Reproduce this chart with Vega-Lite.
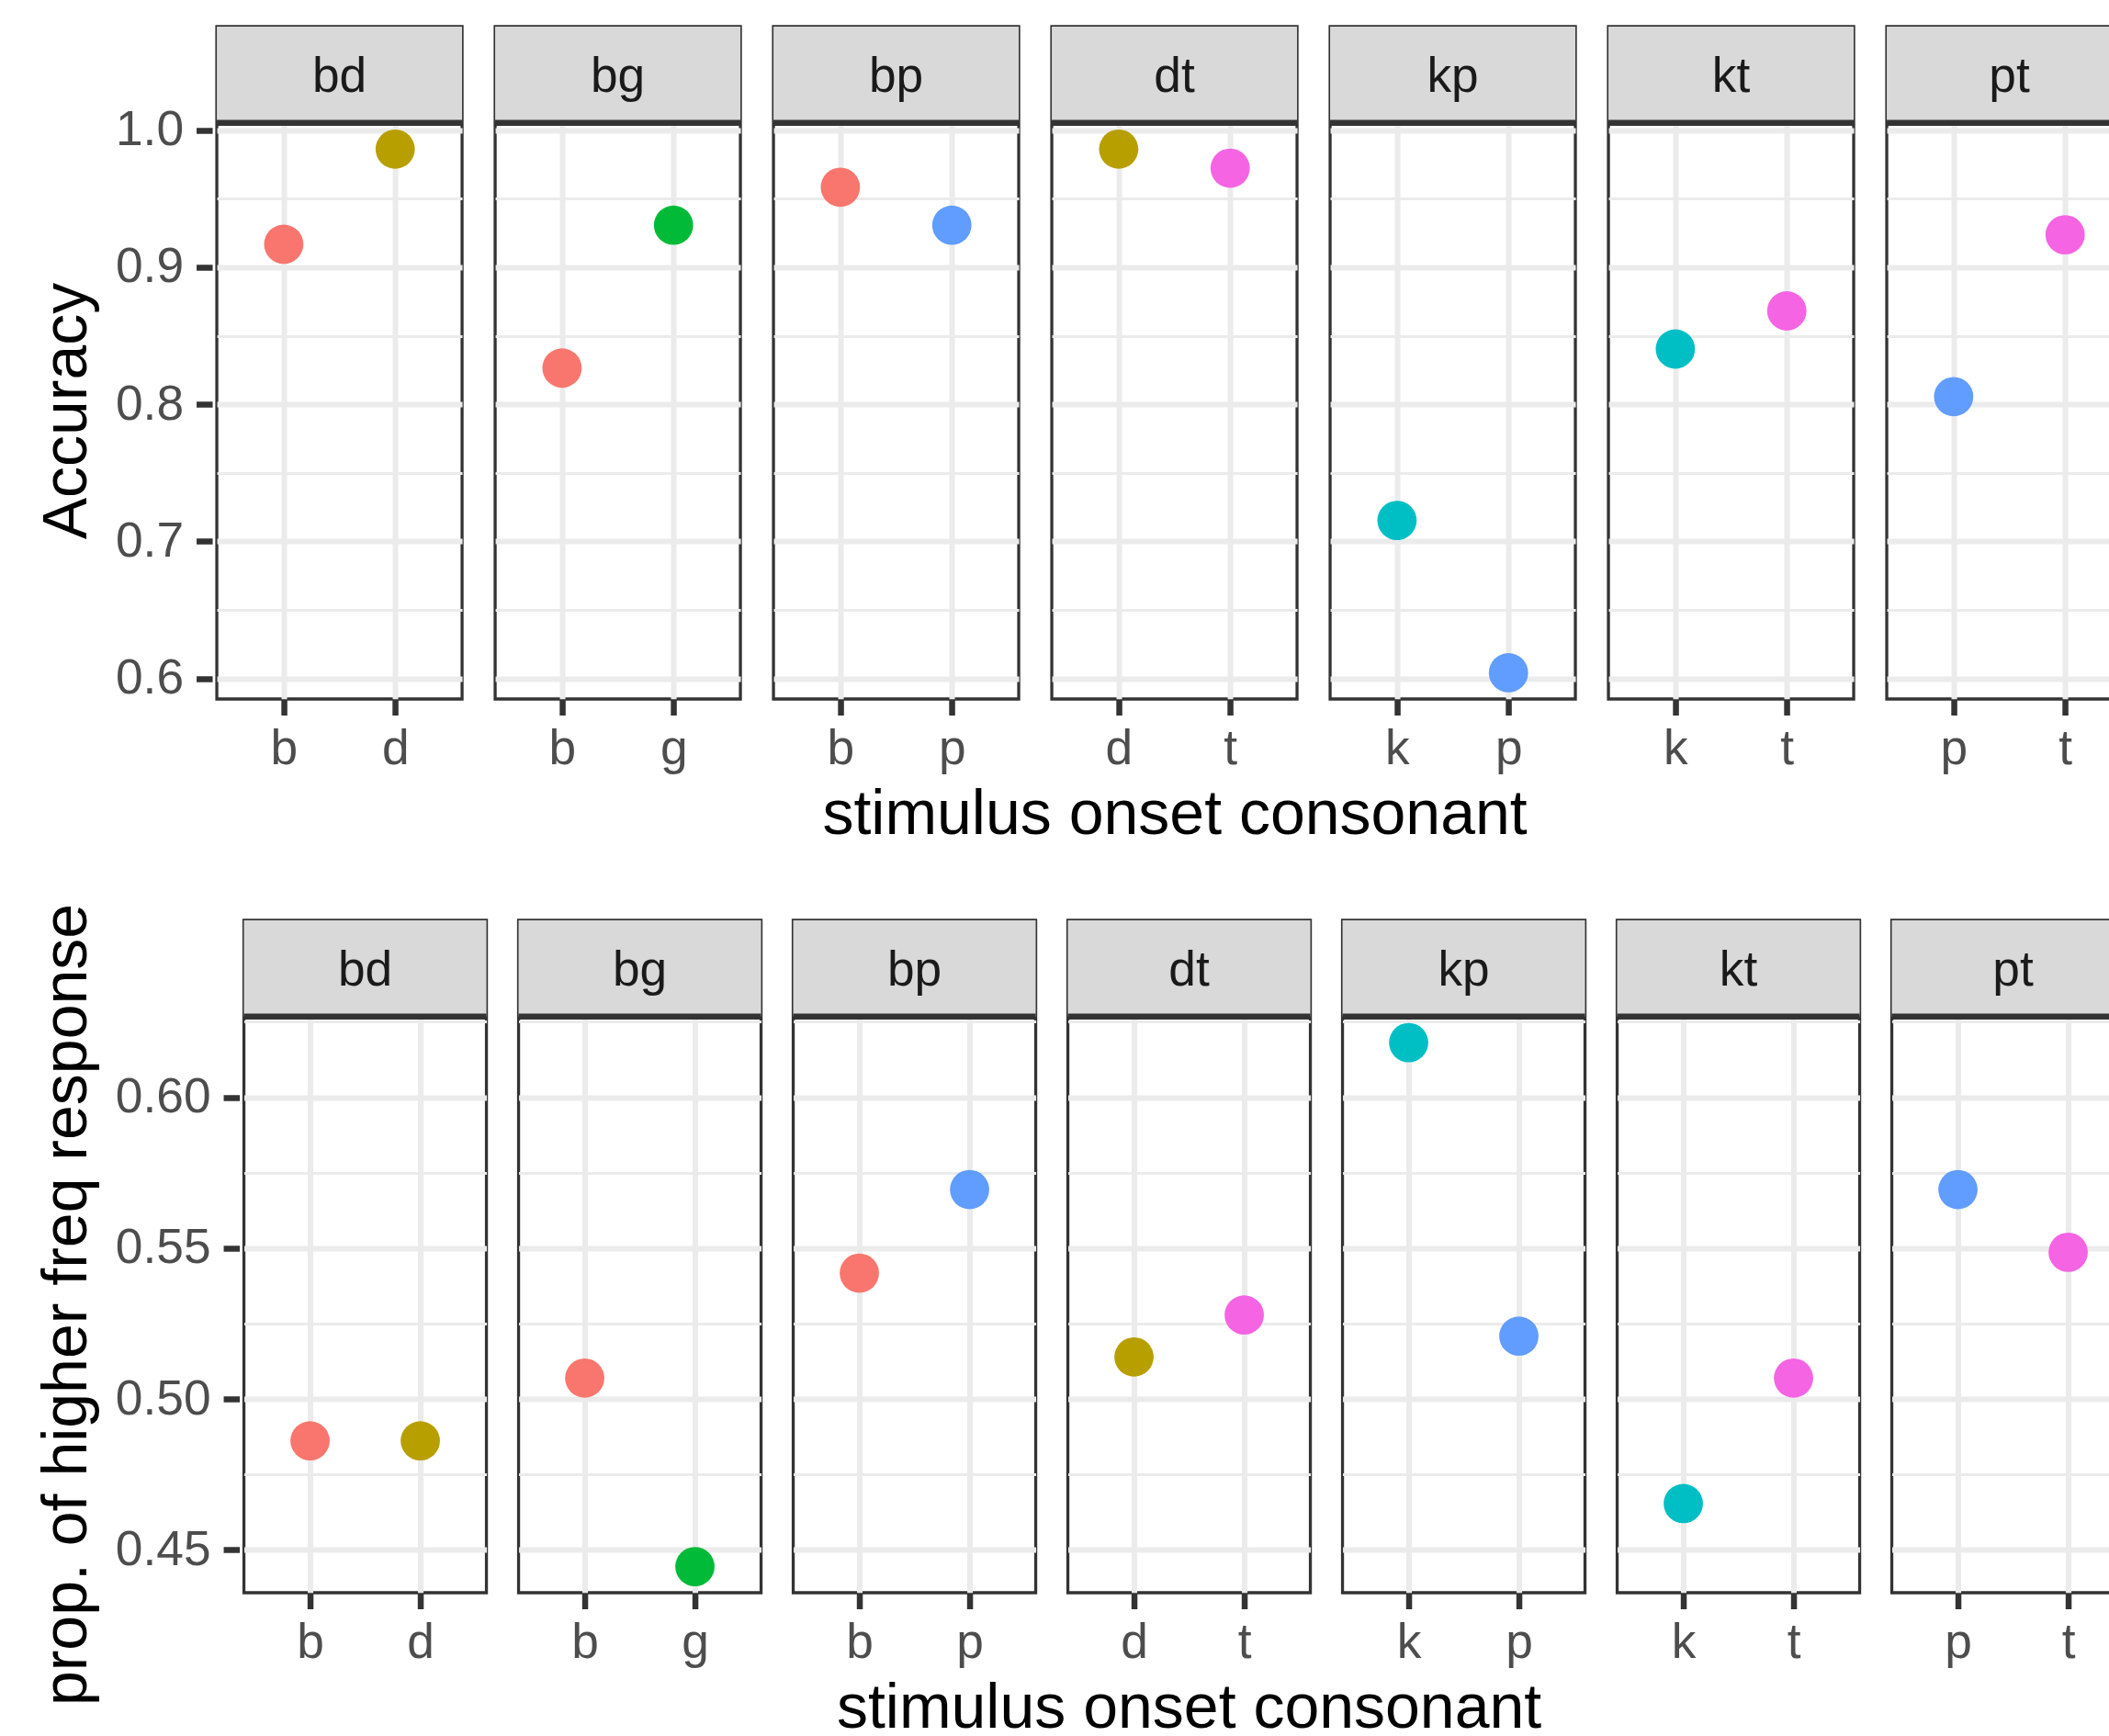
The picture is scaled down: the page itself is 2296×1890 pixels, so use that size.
{
  "$schema": "https://vega.github.io/schema/vega-lite/v6.json",
  "background": "white",
  "padding": {"left": 39, "top": 27, "right": 0, "bottom": 0},
  "columns": 1,
  "center": true,
  "spacing": 61,
  "config": {
    "font": "Liberation Sans",
    "view": {"stroke": "#333333", "strokeWidth": 3.3},
    "axis": {
      "labelFont": "Liberation Sans",
      "labelFontSize": 53.3,
      "labelColor": "#4D4D4D",
      "tickColor": "#333333",
      "tickWidth": 6.5,
      "tickSize": 17.5,
      "domain": false,
      "titleFont": "Liberation Sans",
      "titleFontSize": 68,
      "titleFontWeight": "normal",
      "titleColor": "#000000",
      "gridColor": "#EBEBEB",
      "gridWidth": 6
    },
    "header": {
      "labels": false,
      "titleFont": "Liberation Sans",
      "titleFontSize": 68,
      "titleFontWeight": "normal",
      "titleColor": "#000000",
      "titleOrient": "bottom",
      "titlePadding": 0
    }
  },
  "datasets": {
    "d": [
      {"pair": "bd", "consonant": "b", "acc": 0.9167, "hf": 0.4861},
      {"pair": "bd", "consonant": "d", "acc": 0.9861, "hf": 0.4861},
      {"pair": "bg", "consonant": "b", "acc": 0.8264, "hf": 0.5069},
      {"pair": "bg", "consonant": "g", "acc": 0.9306, "hf": 0.4444},
      {"pair": "bp", "consonant": "b", "acc": 0.9583, "hf": 0.5417},
      {"pair": "bp", "consonant": "p", "acc": 0.9306, "hf": 0.5694},
      {"pair": "dt", "consonant": "d", "acc": 0.9861, "hf": 0.5139},
      {"pair": "dt", "consonant": "t", "acc": 0.9722, "hf": 0.5278},
      {"pair": "kp", "consonant": "k", "acc": 0.7153, "hf": 0.6181},
      {"pair": "kp", "consonant": "p", "acc": 0.6042, "hf": 0.5208},
      {"pair": "kt", "consonant": "k", "acc": 0.8403, "hf": 0.4653},
      {"pair": "kt", "consonant": "t", "acc": 0.8681, "hf": 0.5069},
      {"pair": "pt", "consonant": "p", "acc": 0.8056, "hf": 0.5694},
      {"pair": "pt", "consonant": "t", "acc": 0.9236, "hf": 0.5486}
    ]
  },
  "concat": [
    {
      "data": {"name": "d"},
      "title": {"text": "\u00a0", "orient": "right", "fontSize": 10, "offset": 22},
      "facet": {"column": {"field": "pair", "type": "nominal", "header": {"title": "stimulus onset consonant"}}},
      "spacing": 26,
      "resolve": {"scale": {"x": "independent"}},
      "spec": {
        "width": 267,
        "height": 732,
        "resolve": {"scale": {"x": "independent"}},
        "layer": [
          {
            "mark": {"type": "circle", "size": 1830, "opacity": 1},
            "encoding": {
              "x": {"field": "consonant", "type": "nominal", "scale": {"type": "point", "padding": 0.6},
                    "axis": {"title": null, "grid": true, "labelAngle": 0, "labelPadding": 11}},
              "y": {"field": "acc", "type": "quantitative",
                    "scale": {"domain": [0.5851, 1.0754], "nice": false, "zero": false},
                    "axis": {"title": "Accuracy", "values": [0.6, 0.65, 0.7, 0.75, 0.8, 0.85, 0.9, 0.95, 1.0],
                             "labelExpr": "abs(datum.value*10 - round(datum.value*10)) > 0.01 ? '' : format(datum.value, '.1f')",
                             "tickOpacity": {"condition": {"test": "abs(datum.value*10 - round(datum.value*10)) > 0.01", "value": 0}, "value": 1},
                             "gridWidth": {"condition": {"test": "abs(datum.value*10 - round(datum.value*10)) > 0.01", "value": 3}, "value": 6},
                             "labelPadding": 14, "titlePadding": 18, "titleY": 418}},
              "color": {"field": "consonant", "type": "nominal",
                        "scale": {"domain": ["b", "d", "g", "k", "p", "t"], "range": ["#F8766D", "#B79F00", "#00BA38", "#00BFC4", "#619CFF", "#F564E3"]},
                        "legend": null}
            }
          },
          {
            "transform": [{"aggregate": [{"op": "count", "as": "n"}], "groupby": ["pair"]}],
            "mark": {"type": "rect", "fill": "#D9D9D9"},
            "encoding": {
              "x": {"field": "pair", "type": "nominal", "scale": {"type": "band", "paddingInner": 0, "paddingOuter": 0}, "axis": null},
              "y": {"datum": 1.0052},
              "y2": {"datum": 1.0754}
            }
          },
          {
            "transform": [{"aggregate": [{"op": "count", "as": "n"}], "groupby": ["pair"]}],
            "mark": {"type": "rule", "color": "#333333", "strokeWidth": 6.5},
            "encoding": {"y": {"datum": 1.0052}}
          },
          {
            "transform": [{"aggregate": [{"op": "count", "as": "n"}], "groupby": ["pair"]}],
            "mark": {"type": "text", "fontSize": 53.3, "color": "#1A1A1A", "baseline": "middle", "align": "center"},
            "encoding": {
              "x": {"field": "pair", "type": "nominal", "scale": {"type": "band", "paddingInner": 0, "paddingOuter": 0}, "axis": null},
              "y": {"datum": 1.0387},
              "text": {"field": "pair"}
            }
          }
        ]
      }
    },
    {
      "data": {"name": "d"},
      "facet": {"column": {"field": "pair", "type": "nominal", "header": {"title": "stimulus onset consonant"}}},
      "spacing": 25,
      "resolve": {"scale": {"x": "independent"}},
      "spec": {
        "width": 264,
        "height": 732,
        "resolve": {"scale": {"x": "independent"}},
        "layer": [
          {
            "mark": {"type": "circle", "size": 1830, "opacity": 1},
            "encoding": {
              "x": {"field": "consonant", "type": "nominal", "scale": {"type": "point", "padding": 0.6},
                    "axis": {"title": null, "grid": true, "labelAngle": 0, "labelPadding": 11}},
              "y": {"field": "hf", "type": "quantitative",
                    "scale": {"domain": [0.43576, 0.65863], "nice": false, "zero": false},
                    "axis": {"title": "prop. of higher freq response", "values": [0.45, 0.475, 0.5, 0.525, 0.55, 0.575, 0.6, 0.625],
                             "labelExpr": "abs(datum.value*20 - round(datum.value*20)) > 0.01 ? '' : format(datum.value, '.2f')",
                             "tickOpacity": {"condition": {"test": "abs(datum.value*20 - round(datum.value*20)) > 0.01", "value": 0}, "value": 1},
                             "gridWidth": {"condition": {"test": "abs(datum.value*20 - round(datum.value*20)) > 0.01", "value": 3}, "value": 6},
                             "labelPadding": 14, "titlePadding": 18, "titleY": 418}},
              "color": {"field": "consonant", "type": "nominal",
                        "scale": {"domain": ["b", "d", "g", "k", "p", "t"], "range": ["#F8766D", "#B79F00", "#00BA38", "#00BFC4", "#619CFF", "#F564E3"]},
                        "legend": null}
            }
          },
          {
            "transform": [{"aggregate": [{"op": "count", "as": "n"}], "groupby": ["pair"]}],
            "mark": {"type": "rect", "fill": "#D9D9D9"},
            "encoding": {
              "x": {"field": "pair", "type": "nominal", "scale": {"type": "band", "paddingInner": 0, "paddingOuter": 0}, "axis": null},
              "y": {"datum": 0.62674},
              "y2": {"datum": 0.65863}
            }
          },
          {
            "transform": [{"aggregate": [{"op": "count", "as": "n"}], "groupby": ["pair"]}],
            "mark": {"type": "rule", "color": "#333333", "strokeWidth": 6.5},
            "encoding": {"y": {"datum": 0.62674}}
          },
          {
            "transform": [{"aggregate": [{"op": "count", "as": "n"}], "groupby": ["pair"]}],
            "mark": {"type": "text", "fontSize": 53.3, "color": "#1A1A1A", "baseline": "middle", "align": "center"},
            "encoding": {
              "x": {"field": "pair", "type": "nominal", "scale": {"type": "band", "paddingInner": 0, "paddingOuter": 0}, "axis": null},
              "y": {"datum": 0.64195},
              "text": {"field": "pair"}
            }
          }
        ]
      }
    }
  ]
}
